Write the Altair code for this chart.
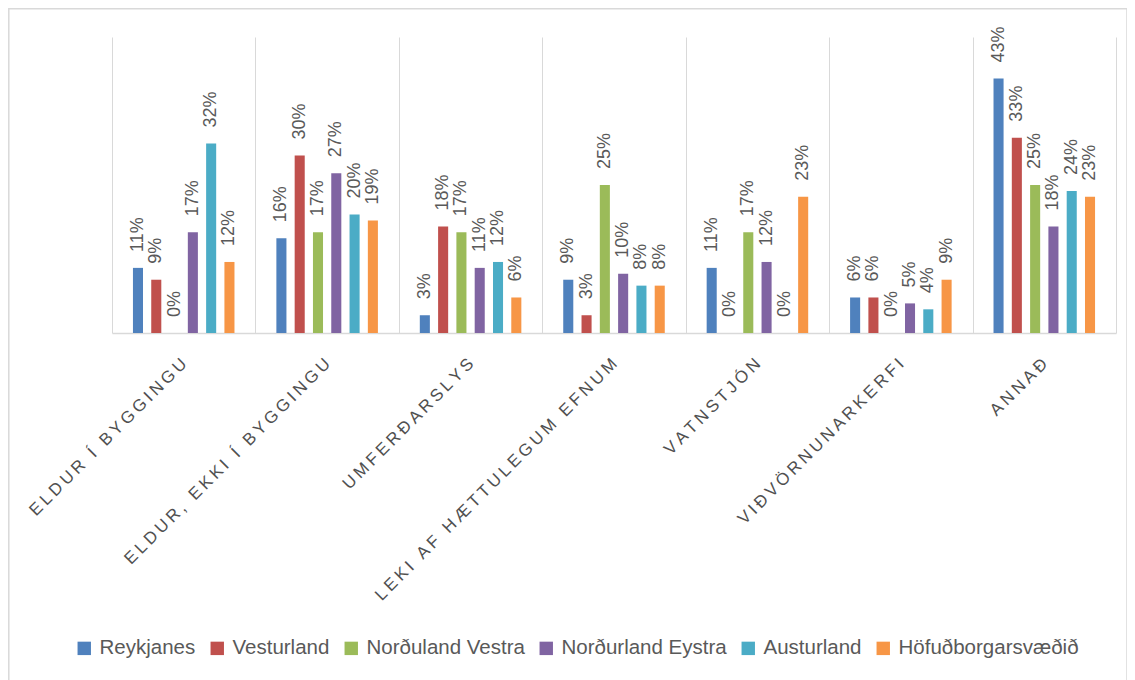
import altair as alt
import pandas as pd

categories = [
    "ELDUR Í BYGGINGU",
    "ELDUR, EKKI Í BYGGINGU",
    "UMFERÐARSLYS",
    "LEKI AF HÆTTULEGUM EFNUM",
    "VATNSTJÓN",
    "VIÐVÖRNUNARKERFI",
    "ANNAÐ",
]
series = [
    "Reykjanes",
    "Vesturland",
    "Norðuland Vestra",
    "Norðurland Eystra",
    "Austurland",
    "Höfuðborgarsvæðið",
]
colors = ["#4F81BD", "#C0504D", "#9BBB59", "#8064A2", "#4BACC6", "#F79646"]

reykjanes = [11, 16, 3, 9, 11, 6, 43]
vesturland = [9, 30, 18, 3, 0, 6, 33]
nordurland_vestra = [0, 17, 17, 25, 17, 0, 25]
nordurland_eystra = [17, 27, 11, 10, 12, 5, 18]
austurland = [32, 20, 12, 8, 0, 4, 24]
hofudborgarsvaedid = [12, 19, 6, 8, 23, 9, 23]

all_values = [reykjanes, vesturland, nordurland_vestra, nordurland_eystra,
              austurland, hofudborgarsvaedid]

rows = []
for s, vals in zip(series, all_values):
    for c, v in zip(categories, vals):
        rows.append({"cat": c, "series": s, "value": v})
df = pd.DataFrame(rows)

FONT = "Liberation Sans"
TXT = "#595959"
GRID = "#d9d9d9"

label_expr = "join(split(datum.label, ''), '\u2009')"

x_enc = alt.X(
    "cat:N",
    sort=categories,
    scale=alt.Scale(paddingInner=0, paddingOuter=0),
    axis=alt.Axis(
        title=None,
        grid=True,
        gridColor=GRID,
        gridWidth=1,
        tickBand="extent",
        ticks=False,
        domainColor=GRID,
        domainWidth=1.5,
        labelAngle=-45,
        labelAlign="right",
        labelBaseline="middle",
        labelPadding=28,
        labelFont=FONT,
        labelFontSize=17,
        labelColor="#505050",
        labelLimit=0,
        labelExpr=label_expr,
    ),
)
# empty slots at both ends of each group give the gap around the bars
offset_domain = ["_gap_start"] + series + ["_gap_end"]
xoff_enc = alt.XOffset(
    "series:N",
    scale=alt.Scale(domain=offset_domain, paddingInner=0.45, paddingOuter=0.145),
)
y_enc = alt.Y("value:Q", scale=alt.Scale(domain=[0, 50]), axis=None)

base = alt.Chart(df)

bars = base.mark_bar().encode(
    x=x_enc,
    xOffset=xoff_enc,
    y=y_enc,
    color=alt.Color(
        "series:N",
        sort=series,
        scale=alt.Scale(domain=series, range=colors),
        legend=alt.Legend(
            title=None,
            orient="none",
            legendX=-38,
            legendY=601,
            direction="horizontal",
            columns=6,
            symbolType="square",
            symbolSize=180,
            symbolStrokeWidth=0,
            symbolOpacity=1,
            labelFont=FONT,
            labelFontSize=20.5,
            labelColor=TXT,
            labelOffset=5,
            columnPadding=11,
            labelLimit=0,
        ),
    ),
)

labels = base.transform_calculate(
    lab="datum.value + '%'"
).mark_text(
    angle=270,
    align="left",
    baseline="middle",
    dx=16,
    font=FONT,
    fontSize=18,
    color=TXT,
).encode(
    x=x_enc,
    xOffset=xoff_enc,
    y=y_enc,
    text=alt.Text("lab:N"),
)

border = alt.Chart(alt.Data(values=[{"b": 1}])).mark_rect(
    fillOpacity=0, stroke=GRID, strokeWidth=1.5
).encode(
    x=alt.value(-103.2),
    x2=alt.value(1015),
    y=alt.value(-28.2),
    y2=alt.value(660),
)

chart = alt.layer(border, bars, labels).properties(
    width=1004,
    height=296,
    autosize=alt.AutoSizeParams(type="none"),
    padding={"left": 104, "top": 29, "right": 11, "bottom": 347},
    background="white",
).configure_view(strokeWidth=0)

chart.save("out.html", embed_options={"renderer": "svg", "actions": False})
